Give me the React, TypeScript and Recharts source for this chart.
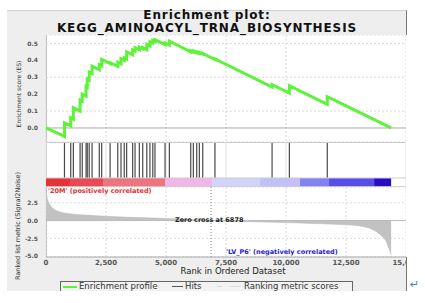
import React from 'react';
import {
  ComposedChart, Line, Area, XAxis, YAxis, CartesianGrid, ReferenceLine, ReferenceArea
} from 'recharts';

const xTicks = [0, 2500, 5000, 7500, 10000, 12500, 15000];
const esTicks = [0, 0.1, 0.2, 0.3, 0.4, 0.5];
const metricTicks = [-5, -2.5, 0, 2.5];

// gene positions of the hits in the ranked list
const hitRanks = [
  770, 1030, 1140, 1420, 1510, 1670, 1720, 1800, 1920, 2220, 2320, 2670, 2990, 3125,
  3260, 3360, 3610, 3710, 3890, 4030, 4200, 4330, 4450, 4540, 4960, 5140, 6030, 6140,
  6280, 6390, 6530, 7040, 9420, 10140, 11720,
];

// running enrichment score: [rank, value] (value before and after each hit)
const esProfile: [number, number][] = [
  [0, 0], [770, -0.05], [770, 0.03], [1030, 0.012], [1030, 0.06], [1140, 0.052], [1140, 0.12],
  [1420, 0.1], [1420, 0.165], [1510, 0.159], [1510, 0.2], [1670, 0.189], [1670, 0.245],
  [1720, 0.241], [1720, 0.29], [1800, 0.284], [1800, 0.33], [1920, 0.322], [1920, 0.365],
  [2220, 0.344], [2220, 0.375], [2320, 0.368], [2320, 0.405], [2670, 0.381], [2670, 0.386],
  [2990, 0.364], [2990, 0.39], [3125, 0.381], [3125, 0.41], [3260, 0.4], [3260, 0.415],
  [3360, 0.408], [3360, 0.45], [3610, 0.433], [3610, 0.462], [3710, 0.455], [3710, 0.475],
  [3890, 0.462], [3890, 0.478], [4030, 0.468], [4030, 0.475], [4200, 0.463], [4200, 0.495],
  [4330, 0.486], [4330, 0.51], [4450, 0.502], [4450, 0.518], [4540, 0.512], [4540, 0.522],
  [4960, 0.493], [4960, 0.503], [5140, 0.49], [5140, 0.513], [6030, 0.451], [6030, 0.457],
  [6140, 0.449], [6140, 0.455], [6280, 0.445], [6280, 0.45], [6390, 0.442], [6390, 0.447],
  [6530, 0.437], [6530, 0.441], [7040, 0.405], [7040, 0.408], [9420, 0.242], [9420, 0.256],
  [10140, 0.206], [10140, 0.25], [11720, 0.14], [11720, 0.185], [14380, 0],
];

// ranked list metric (Signal2Noise)
const metricProfile: [number, number][] = [
  [0, 4.3], [50, 3.2], [150, 2.3], [300, 1.7], [600, 1.2], [1000, 0.95], [1500, 0.8],
  [2500, 0.6], [3500, 0.45], [4500, 0.35], [5500, 0.22], [6300, 0.1], [6878, 0],
  [7500, -0.08], [8500, -0.15], [9500, -0.25], [10500, -0.33], [11500, -0.45],
  [12500, -0.6], [13000, -0.72], [13500, -1.1], [13900, -1.9], [14150, -2.8],
  [14300, -4.0], [14380, -4.8],
];

const bandEdges = [0, 1000, 2375, 4960, 6920, 8920, 10580, 11790, 13670, 14380];
const bandColors = [
  '#e6333a', '#e94a55', '#ee7480', '#f1b6e6', '#d4d4fa', '#c2c0f6', '#8282f2', '#5a4ee8', '#2a0cc6',
];

const zeroCross = 6878;

const esData = esProfile.map(([rank, es]) => ({ rank, es }));
const metricData = metricProfile.map(([rank, metric]) => ({ rank, metric }));
const hitData = hitRanks.map((rank) => ({ rank, top: 44 }));

const font = "'DejaVu Sans', sans-serif";
const tickStyle = { fontSize: 6, fill: '#555', fontFamily: font, fontWeight: 'bold' as const };

const abs = (left: number, top: number, extra: React.CSSProperties = {}): React.CSSProperties => ({
  position: 'absolute', left, top, whiteSpace: 'nowrap', fontFamily: font, ...extra,
});

export default function App() {
  return (
    <div style={{ position: 'absolute', left: 0, top: 0, width: 425, height: 303, background: '#fff', overflow: 'hidden' }}>
      {/* figure background */}
      <div style={{ position: 'absolute', left: 7, top: 10, width: 399, height: 281, background: '#eeeeee', borderTop: '1px solid #d0d0d0', borderRight: '1px solid #777' }} />
      <div style={{ position: 'absolute', left: 46, top: 35, width: 360, height: 222, background: '#fff', borderLeft: '1px solid #bbb' }} />

      <div style={abs(0, 9, { width: 414, textAlign: 'center', fontSize: 12, lineHeight: '12px', fontWeight: 'bold', letterSpacing: 0.9, color: '#111' })}>Enrichment plot:</div>
      <div style={abs(0, 22, { width: 414, textAlign: 'center', fontSize: 12, lineHeight: '12px', fontWeight: 'bold', letterSpacing: 0.9, color: '#111' })}>KEGG_AMINOACYL_TRNA_BIOSYNTHESIS</div>

      {/* enrichment score panel */}
      <div style={{ position: 'absolute', left: 6, top: 35 }}>
        <ComposedChart width={400} height={107} data={esData} margin={{ top: 0, right: 0, bottom: 0, left: 0 }}>
          <CartesianGrid stroke="#d8d8d8" strokeDasharray="2 2" />
          <XAxis type="number" dataKey="rank" domain={[0, 15000]} ticks={xTicks} hide />
          <YAxis type="number" domain={[-0.083, 0.55]} ticks={esTicks} width={40} tick={tickStyle}
            axisLine={false} tickLine={false} tickFormatter={(v: number) => v.toFixed(1)} />
          <ReferenceLine y={0} stroke="#aaa" strokeWidth={1} />
          <Line type="linear" dataKey="es" stroke="#5ef23a" strokeWidth={3} dot={false} isAnimationActive={false} />
        </ComposedChart>
      </div>

      {/* hits and ranking colour bar */}
      <div style={{ position: 'absolute', left: 46, top: 142, width: 360, height: 45, borderTop: '1px solid #ccc' }} />
      <div style={{ position: 'absolute', left: 46, top: 142 }}>
        <ComposedChart width={360} height={45} data={hitData} margin={{ top: 0, right: 0, bottom: 0, left: 0 }}>
          <CartesianGrid stroke="#e2e2e2" horizontal={false} />
          <XAxis type="number" dataKey="rank" domain={[0, 15000]} ticks={xTicks} hide />
          <YAxis type="number" domain={[0, 45]} hide />
          <Line type="linear" dataKey="top" stroke="none" dot={false} isAnimationActive={false} />
          <ReferenceLine y={9} stroke="#ccc" />
          <ReferenceLine y={0.3} stroke="#ccc" />
          {bandColors.map((c, i) => (
            <ReferenceArea key={i} x1={bandEdges[i]} x2={bandEdges[i + 1]} y1={0.3} y2={9}
              fill={c} fillOpacity={1} stroke="none" />
          ))}
          {hitRanks.map((r) => (
            <ReferenceLine key={r} segment={[{ x: r, y: 9.5 }, { x: r, y: 44 }]} stroke="#4a4a4a" strokeWidth={1.2} />
          ))}
        </ComposedChart>
      </div>

      {/* ranked list metric */}
      <div style={{ position: 'absolute', left: 6, top: 187 }}>
        <ComposedChart width={400} height={84} data={metricData} margin={{ top: 0, right: 0, bottom: 0, left: 0 }}>
          <CartesianGrid stroke="#dddddd" strokeDasharray="2 2" />
          <XAxis type="number" dataKey="rank" domain={[0, 15000]} ticks={xTicks} height={14}
            tick={{ ...tickStyle, fontSize: 7 }} tickSize={1} tickMargin={2} tickLine={false}
            axisLine={{ stroke: '#aaa' }} tickFormatter={(v: number) => v.toLocaleString('en-US')} interval={0} />
          <YAxis type="number" domain={[-5.1, 4.7]} ticks={metricTicks} width={40} tick={tickStyle}
            axisLine={false} tickLine={false} tickFormatter={(v: number) => v.toFixed(1)} />
          <Area type="monotone" dataKey="metric" fill="#c2c2c2" fillOpacity={1} stroke="#b8b8b8" strokeWidth={0.5}
            dot={false} isAnimationActive={false} />
          <ReferenceLine y={0} stroke="#bbb" />
          <ReferenceLine x={zeroCross} stroke="#888" strokeDasharray="1 2" />
        </ComposedChart>
      </div>

      <div style={abs(48, 187, { fontSize: 6.5, fontWeight: 'bold', color: '#e03030' })}>'20M' (positively correlated)</div>
      <div style={abs(175, 216, { fontSize: 6.5, fontWeight: 'bold', color: '#222' })}>Zero cross at {zeroCross}</div>
      <div style={abs(226, 248, { fontSize: 6.5, fontWeight: 'bold', color: '#2222dd' })}>'LV_P6' (negatively correlated)</div>

      <div style={abs(18, 94, { fontSize: 6, color: '#333', transform: 'translate(-50%,-50%) rotate(-90deg)' })}>Enrichment score (ES)</div>
      <div style={abs(18, 226, { fontSize: 6.5, color: '#333', transform: 'translate(-50%,-50%) rotate(-90deg)' })}>Ranked list metric (Signal2Noise)</div>

      <div style={abs(0, 266, { width: 466, textAlign: 'center', fontSize: 8.5, color: '#222' })}>Rank in Ordered Dataset</div>

      {/* legend */}
      <div style={{ position: 'absolute', left: 60, top: 281, width: 291, height: 12, borderTop: '1px solid #666', borderLeft: '1px solid #666', borderRight: '1px solid #666', background: '#f2f2f2' }} />
      <div style={{ position: 'absolute', left: 63, top: 286, width: 14, height: 2, background: '#5ef23a' }} />
      <div style={abs(79, 281, { fontSize: 8.5, color: '#333' })}>Enrichment profile</div>
      <div style={{ position: 'absolute', left: 172, top: 286, width: 11, height: 1, background: '#555' }} />
      <div style={abs(185, 281, { fontSize: 8.5, color: '#333' })}>Hits</div>
      <div style={{ position: 'absolute', left: 217, top: 286, width: 5, height: 1, background: '#ddd' }} />
      <div style={{ position: 'absolute', left: 230, top: 286, width: 10, height: 1, background: '#ddd' }} />
      <div style={abs(244, 281, { fontSize: 8.5, color: '#333' })}>Ranking metric scores</div>

      <div style={{ position: 'absolute', left: 0, top: 291, width: 425, height: 12, background: '#fff' }} />
      <div style={abs(410, 278, { fontSize: 11, color: '#4a7fd0' })}>↵</div>
    </div>
  );
}
